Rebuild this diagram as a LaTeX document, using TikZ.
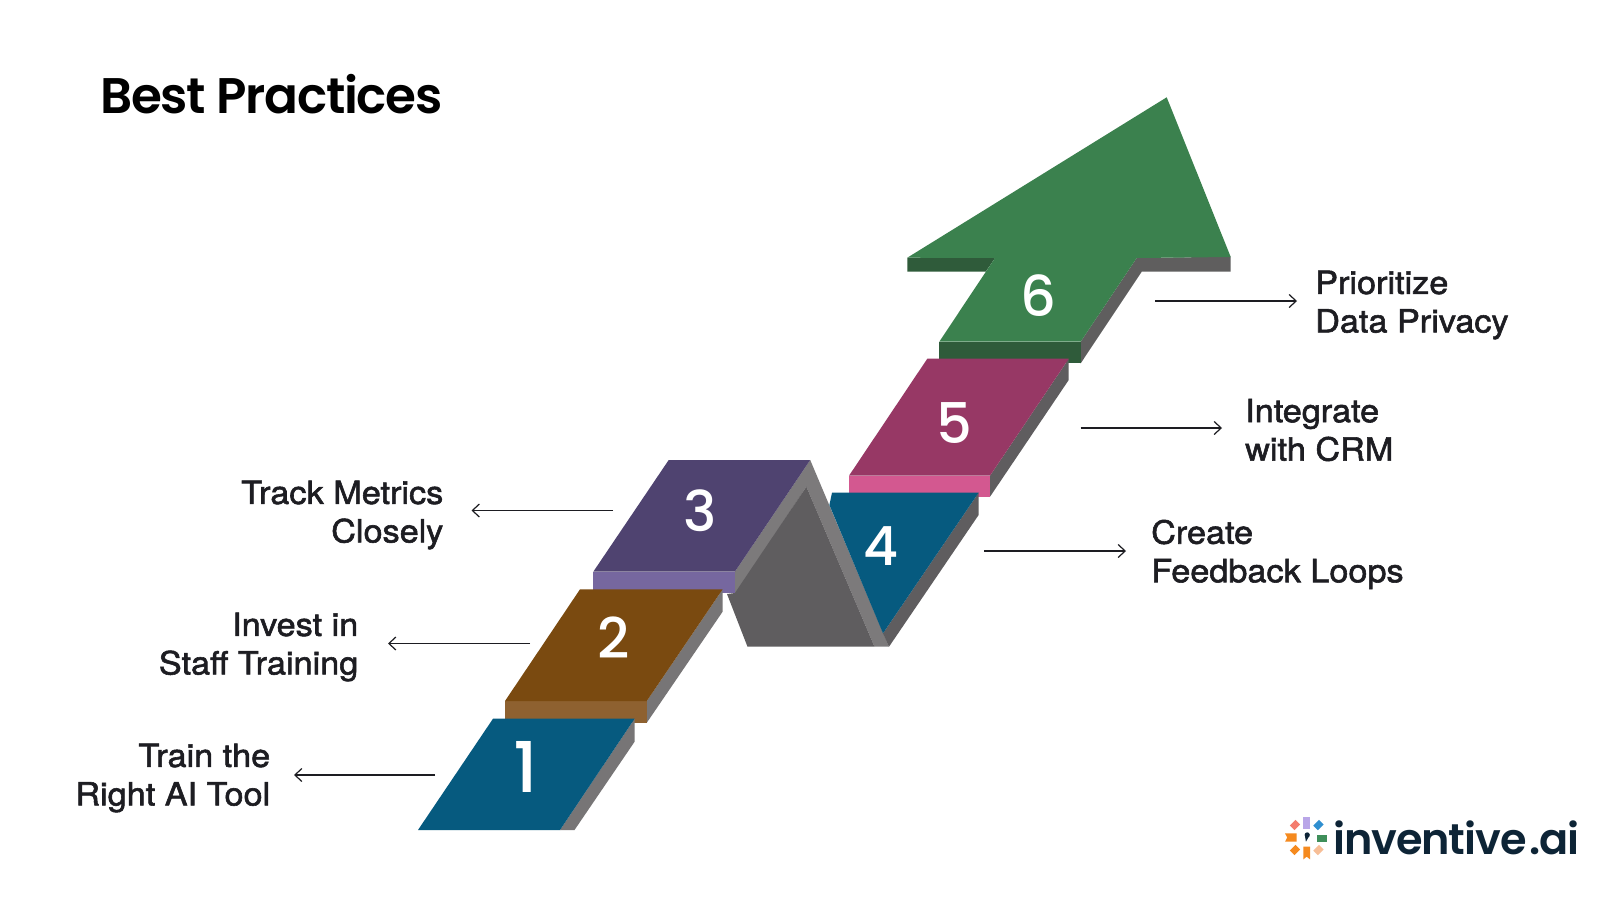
\documentclass[tikz,border=0pt]{standalone}
\usepackage{fontspec}
\usetikzlibrary{arrows.meta}
\setmainfont{Liberation Sans}
\newfontfamily\labfont[FakeBold=1.8,FakeStretch=1.07]{TeX Gyre Heros}
\newfontfamily\titlefont[LetterSpace=-2.6]{Poppins SemiBold}
\newfontfamily\numfont{Poppins Medium}
\newfontfamily\logofont[LetterSpace=-2.5]{Poppins SemiBold}
\definecolor{teal}{HTML}{065A7F}
\definecolor{brownT}{HTML}{7A4A10}
\definecolor{brownF}{HTML}{8E6130}
\definecolor{purpT}{HTML}{4F4370}
\definecolor{purpF}{HTML}{76679F}
\definecolor{magT}{HTML}{973865}
\definecolor{magF}{HTML}{D35890}
\definecolor{grnT}{HTML}{3B814E}
\definecolor{grnF}{HTML}{2F5B3A}
\definecolor{sideG}{HTML}{777576}
\definecolor{darkG}{HTML}{5F5D5F}
\definecolor{bandG}{HTML}{7C7A7B}
\definecolor{ink}{HTML}{1D1D22}
\definecolor{logoink}{HTML}{0D2436}
\definecolor{lpurp}{HTML}{B9A6E8}
\definecolor{lblue}{HTML}{2F8FD0}
\definecolor{lgreen}{HTML}{3F8F5A}
\definecolor{lpeach}{HTML}{F7BE96}
\definecolor{lorange}{HTML}{F58A1F}
\definecolor{lred}{HTML}{F47C6E}
\tikzset{
  lab/.style={font=\labfont\fontsize{32}{38.5}\selectfont,text=ink,inner sep=0pt},
  labL/.style={lab,anchor=west,align=left},
  labR/.style={lab,anchor=east,align=right},
  num/.style={font=\numfont\fontsize{56}{56}\selectfont,text=white,inner sep=0pt},
  lead/.style={line width=1.2pt,draw=ink,-{Straight Barb[length=7pt,width=13pt,line width=1.2pt]}},
}
\begin{document}
\begin{tikzpicture}[x=1pt,y=-1pt]
\useasboundingbox (0,0) rectangle (1600,900);
\fill[white] (0,0) rectangle (1600,900);
\node[anchor=west,inner sep=0pt,font=\titlefont\fontsize{50}{50}\selectfont,text=black] (title) at (100,94.5) {Best Practices};
% step 6
\fill[sideG!80!black] (1080.7,341.7) -- (1136.7,258) -- (1230.7,256.7) -- (1230.7,271.7) -- (1141.7,271.7) -- (1080.7,363.3) -- cycle;
\fill[grnF] (907.3,257.7) -- (995,258) -- (985.7,271.7) -- (907.3,271.7) -- cycle;
\fill[grnF] (939.3,341.7) -- (1080.7,341.7) -- (1080.7,363.3) -- (939.3,363.3) -- cycle;
\fill[grnT] (1166.7,97.3) -- (1230.7,257) -- (1136.7,258) -- (1080.7,341.7) -- (939.3,341.7) -- (995,258) -- (907.3,257.7) -- cycle;
% step 5
\fill[darkG] (1068.7,358.7) -- (1068.7,380) -- (990,496.7) -- (990,475.7) -- cycle;
\fill[magF] (849,475.7) -- (990,475.7) -- (990,496.7) -- (849,496.7) -- cycle;
\fill[magT] (927.3,358.7) -- (1068.7,358.7) -- (990,475.7) -- (849,475.7) -- cycle;
% block between 3 and 4
\fill[bandG] (810.2,460) -- (889,646.7) -- (874.5,646.7) -- (806.4,486.7) -- (734.9,595) -- (734.9,571.7) -- cycle;
\fill[darkG] (806.4,486.7) -- (874.5,646.7) -- (747.5,646.7) -- (727,594) -- (734.9,593) -- cycle;
% step 4
\fill[darkG] (978.6,492.7) -- (978.6,515) -- (889,646.7) -- (883,633.3) -- cycle;
\fill[teal] (832,492.7) -- (978.6,492.7) -- (883,633.3) -- (829.4,505) -- cycle;
% step 3
\fill[purpF] (593.3,571.7) -- (734.9,571.7) -- (734.9,593.3) -- (593.3,593.3) -- cycle;
\fill[purpT] (668.7,460) -- (810.2,460) -- (734.9,571.7) -- (593.3,571.7) -- cycle;
% step 2
\fill[sideG] (722.6,589.3) -- (722.6,611.7) -- (646.8,722.7) -- (646.8,701) -- cycle;
\fill[brownF] (505,701) -- (646.8,701) -- (646.8,722.7) -- (505,722.7) -- cycle;
\fill[brownT] (580,589.3) -- (722.6,589.3) -- (646.8,701) -- (505,701) -- cycle;
% step 1
\fill[sideG] (634.6,718.7) -- (634.6,741.7) -- (574.5,830) -- (560,830) -- cycle;
\fill[teal] (493,718.7) -- (634.6,718.7) -- (560,830) -- (418,830) -- cycle;
% numerals
\node[num] (n1) at (525.5,767) {\fontsize{70}{70}\selectfont 1};
\node[num] (n2) at (613.5,638) {2};
\node[num] (n3) at (700,510.5) {3};
\node[num] (n4) at (881,546) {\fontsize{54}{54}\selectfont 4};
\node[num] (n5) at (954,423) {5};
\node[num] (n6) at (1038.3,296) {6};
% labels
\node[labR] (l1) at (270.4,778) {Train the\\Right AI Tool};
\node[labR] (l2) at (358.5,647) {Invest in\\Staff Training};
\node[labR] (l3) at (443.5,515) {Track Metrics\\Closely};
\node[labL] (l4) at (1151,554.5) {Create\\Feedback Loops};
\node[labL] (l5) at (1245,430) {Integrate\\with CRM};
\node[labL] (l6) at (1315,305) {Prioritize\\Data Privacy};
% leaders
\coordinate (a1) at (435,775);  \coordinate (b1) at (294,775);
\coordinate (a2) at (530,643.5);\coordinate (b2) at (388,643.5);
\coordinate (a3) at (613,510.5);\coordinate (b3) at (471.5,510.5);
\coordinate (a4) at (984,551);  \coordinate (b4) at (1126,551);
\coordinate (a5) at (1080.7,428);\coordinate (b5) at (1222,428);
\coordinate (a6) at (1155,301); \coordinate (b6) at (1297,301);
\foreach \i in {1,...,6} \draw[lead] (a\i) -- (b\i);
% logo
\begin{scope}[shift={(1306.7,836.7)}]
  \fill[lpurp] (-3.4,-20) rectangle (3.4,-8);
  \fill[lgreen] (10,-1.7) rectangle (20.7,5);
  \fill[lorange] (-3.4,10) -- (3.4,10) -- (3.4,22.7) -- (0,20) -- (-3.4,22.7) -- cycle;
  \fill[lorange] (-10,-3.3) -- (-10,5) -- (-21.7,5) -- (-19.5,0.8) -- (-21.7,-3.3) -- cycle;
  \fill[lblue,rotate around={45:(11.7,-11.7)}] (7.7,-15) rectangle (15.7,-8.4);
  \fill[lpeach,rotate around={45:(11.7,13.3)}] (7.7,10) rectangle (15.7,16.6);
  \fill[lorange,rotate around={45:(-11.7,13.3)}] (-15.7,10) rectangle (-7.7,16.6);
  \fill[lred,rotate around={45:(-11.7,-11.7)}] (-15.7,-15) rectangle (-7.7,-8.4);
  \fill[logoink] (0.5,-1.8) circle (2.6);
  \fill[logoink] (-1.8,-1) -- (2.8,-1) -- (-0.8,5) -- cycle;
\end{scope}
\node[anchor=base west,inner sep=0pt,font=\logofont\fontsize{43}{43}\selectfont,text=logoink] (logo) at (1333,854) {inventive\hspace{3pt}.ai};
\end{tikzpicture}
\end{document}
